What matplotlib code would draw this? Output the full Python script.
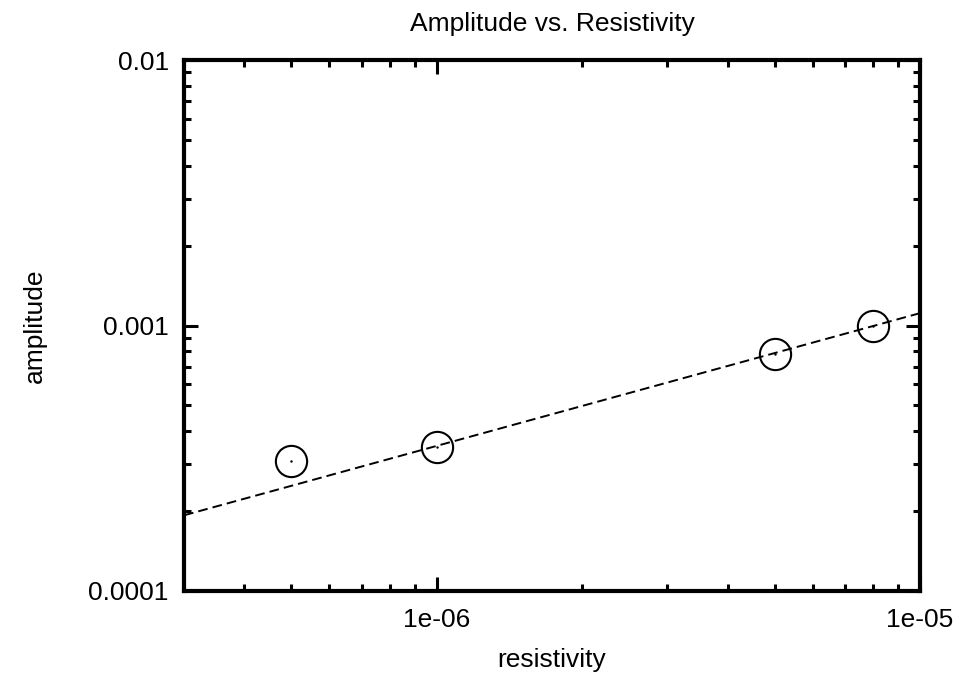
import matplotlib
matplotlib.use('Agg')
import matplotlib.pyplot as plt
import numpy as np
from matplotlib.ticker import LogLocator, FixedLocator, NullFormatter

plt.rcParams['font.family'] = ['Liberation Sans', 'DejaVu Sans']

# measured points
resistivity = [5e-7, 1e-6, 5e-6, 8e-6]
amplitude = [3.09e-4, 3.49e-4, 7.81e-4, 1.0e-3]

# power-law fit: amplitude = fit_a * resistivity ** fit_b
fit_a = 0.352
fit_b = 0.5

fig = plt.figure(figsize=(9.62, 6.73), dpi=100)
ax = fig.add_axes([184 / 962, 1 - 591 / 673, (920 - 184) / 962, (591 - 60) / 673])

xs = np.logspace(np.log10(3e-7), np.log10(1e-5), 200)
ax.plot(xs, fit_a * xs ** fit_b, color='black', lw=1.4, ls=(0, (5, 2.6)))
ax.plot(resistivity, amplitude, 'o', ms=22.5, mfc='none', mec='black', mew=1.5)
ax.plot(resistivity, amplitude, '.', ms=1.5, color='black')

ax.set_xscale('log')
ax.set_yscale('log')
ax.set_xlim(3e-7, 1e-5)
ax.set_ylim(1e-4, 1e-2)

ax.xaxis.set_major_locator(FixedLocator([1e-6, 1e-5]))
ax.yaxis.set_major_locator(FixedLocator([1e-4, 1e-3, 1e-2]))
ax.set_xticklabels(['1e-06', '1e-05'])
ax.set_yticklabels(['0.0001', '0.001', '0.01'])
ax.xaxis.set_minor_locator(LogLocator(base=10, subs=np.arange(2, 10)))
ax.yaxis.set_minor_locator(LogLocator(base=10, subs=np.arange(2, 10)))
ax.xaxis.set_minor_formatter(NullFormatter())
ax.yaxis.set_minor_formatter(NullFormatter())

ax.tick_params(which='both', direction='in', top=True, right=True, labelsize=19, color='black')
ax.tick_params(which='major', length=10, width=2.2)
ax.tick_params(which='minor', length=5, width=2.2)
ax.tick_params(axis='x', which='major', pad=12)
ax.tick_params(axis='y', which='major', pad=11)
for s in ax.spines.values():
    s.set_linewidth(3)

ax.set_xlabel('resistivity', fontsize=19, labelpad=12)
ax.set_ylabel('amplitude', fontsize=19, labelpad=30)
ax.set_title('Amplitude vs. Resistivity', fontsize=19, pad=21)

fig.savefig('out.png', dpi=100)
